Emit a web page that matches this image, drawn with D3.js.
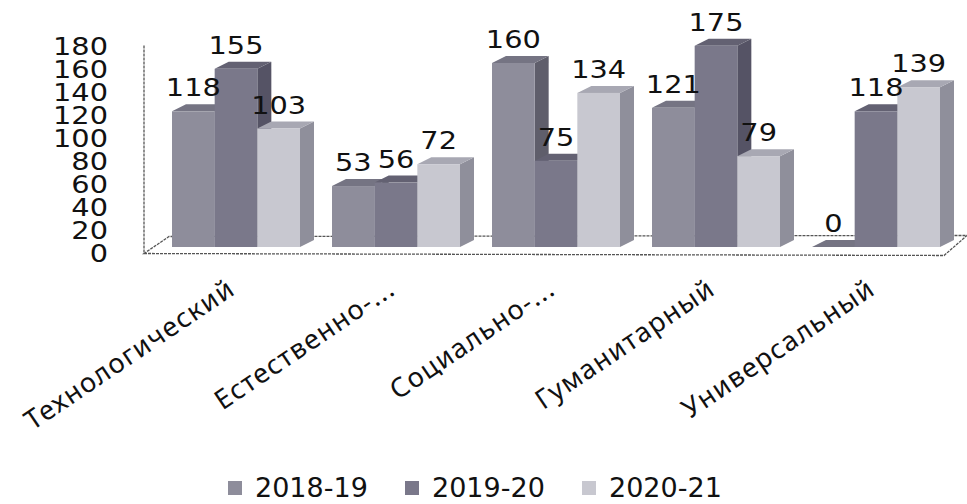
<!DOCTYPE html>
<html>
<head>
<meta charset="utf-8">
<script src="https://d3js.org/d3.v7.min.js"></script>
<style>
  body { margin: 0; background: #fff; }
</style>
</head>
<body>
<svg width="967" height="504"></svg>
<script>
// data
const categories = ["Технологический", "Естественно-...", "Социально-...", "Гуманитарный", "Универсальный"];
const seriesNames = ["2018-19", "2019-20", "2020-21"];
const values2018 = [118, 53, 160, 121, 0];
const values2019 = [155, 56, 75, 175, 118];
const values2020 = [103, 72, 134, 79, 139];
const yTicks = [0, 20, 40, 60, 80, 100, 120, 140, 160, 180];

const series = [values2018, values2019, values2020];

// face colours per series: front, side, top
const frontCol = ["#8e8d9b", "#7a788a", "#c8c8d0"];
const sideCol = ["#5f5e6b", "#555365", "#8f8f9b"];
const topCol = ["#757483", "#636172", "#a8a8b3"];

const svg = d3.select("svg");
const numFont = "DejaVu Sans, Verdana, sans-serif";

// scales
const x0 = d3.scaleBand().domain(categories).range([156, 956]).paddingInner(0.2).paddingOuter(0.1);
const x1 = d3.scaleBand().domain(seriesNames).range([0, x0.bandwidth()]);
const y = d3.scaleLinear().domain([0, 180]).range([253.5, 46.5]);

const lift = 6.5;   // bars stand a little behind the front floor edge
const dx = 14, dy = -7; // depth offset of the 3d boxes

// floor + axis line
const floor = svg.append("g")
  .attr("fill", "none")
  .attr("stroke", "#555")
  .attr("stroke-width", 1.3)
  .attr("stroke-dasharray", "3,1");
const fl = 144, fr = 944, fb = y(0), bb = y(0) - 17;
floor.append("path").attr("d", `M${fl},${fb} L${fr},${fb + 2} L${fr + 23},${bb - 1} L${fl + 25},${bb} Z`);
floor.append("line").attr("x1", fl).attr("x2", fl).attr("y1", y(180) - 1).attr("y2", fb);

// bars
const bars = svg.append("g");
categories.forEach((c, i) => {
  seriesNames.forEach((s, j) => {
    const v = series[j][i];
    const xl = x0(c) + x1(s);
    const w = x1.bandwidth();
    const yt = y(v) - lift;
    const yb = y(0) - lift;
    // side face
    bars.append("path")
      .attr("d", `M${xl + w},${yt} L${xl + w + dx},${yt + dy} L${xl + w + dx},${yb + dy} L${xl + w},${yb} Z`)
      .attr("fill", sideCol[j]);
    // top face
    bars.append("path")
      .attr("d", `M${xl},${yt} L${xl + dx},${yt + dy} L${xl + w + dx},${yt + dy} L${xl + w},${yt} Z`)
      .attr("fill", topCol[j]);
    // front face
    bars.append("rect")
      .attr("x", xl).attr("y", yt)
      .attr("width", w).attr("height", yb - yt)
      .attr("fill", frontCol[j]);
  });
});

// value labels
const labels = svg.append("g")
  .attr("font-family", numFont)
  .attr("font-size", 24)
  .attr("fill", "#111")
  .attr("text-anchor", "middle");
categories.forEach((c, i) => {
  seriesNames.forEach((s, j) => {
    const v = series[j][i];
    const cx = x0(c) + x1(s) + x1.bandwidth() / 2;
    labels.append("text")
      .attr("transform", `translate(${cx},${y(v) - lift - 15}) scale(1.2,1)`)
      .text(v);
  });
});

// y tick labels
svg.append("g")
  .attr("font-family", numFont)
  .attr("font-size", 24)
  .attr("fill", "#111")
  .attr("text-anchor", "end")
  .selectAll("text")
  .data(yTicks)
  .join("text")
  .attr("transform", d => `translate(108,${y(d) + 8.5}) scale(1.2,1)`)
  .text(d => d);

// category labels
svg.append("g")
  .attr("font-family", "'Noto Sans', 'Open Sans', sans-serif")
  .attr("font-size", 27)
  .attr("letter-spacing", 1.3)
  .attr("fill", "#111")
  .attr("text-anchor", "end")
  .selectAll("text")
  .data(categories)
  .join("text")
  .attr("transform", d => `translate(${x0(d) + x0.bandwidth() / 2 + 1},293) rotate(-34)`)
  .text(d => d);

// legend
const legendX = [228, 405, 582];
const legend = svg.append("g");
seriesNames.forEach((s, j) => {
  legend.append("rect")
    .attr("x", legendX[j]).attr("y", 481)
    .attr("width", 14).attr("height", 14)
    .attr("fill", frontCol[j]);
  legend.append("text")
    .attr("x", legendX[j] + 27).attr("y", 497)
    .attr("font-family", numFont)
    .attr("font-size", 27)
    .attr("fill", "#111")
    .text(s);
});
</script>
</body>
</html>
